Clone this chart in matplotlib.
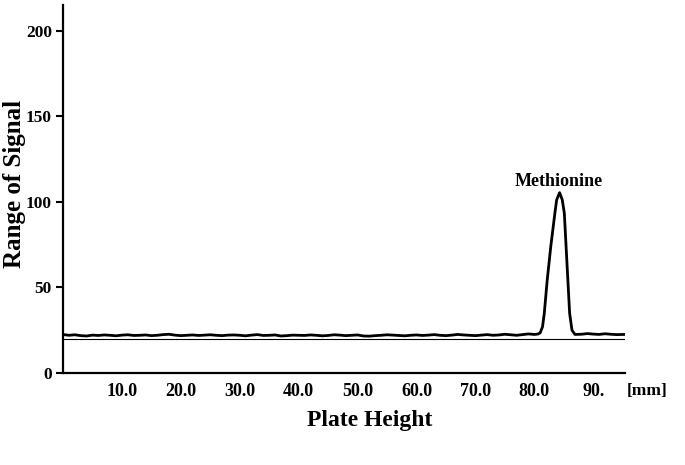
import matplotlib
matplotlib.use("Agg")
import matplotlib.pyplot as plt

plt.rcParams['font.family'] = ['Liberation Serif', 'DejaVu Serif']
plt.rcParams['font.weight'] = 'bold'

# densitogram trace (plate height in mm, signal)
plate_mm = [
    0.1, 1, 2, 3, 4, 5, 6, 7, 8, 9,
    10, 11, 12, 13, 14, 15, 16, 17, 18, 19,
    20, 21, 22, 23, 24, 25, 26, 27, 28, 29,
    30, 31, 32, 33, 34, 35, 36, 37, 38, 39,
    40, 41, 42, 43, 44, 45, 46, 47, 48, 49,
    50, 51, 52, 53, 54, 55, 56, 57, 58, 59,
    60, 61, 62, 63, 64, 65, 66, 67, 68, 69,
    70, 71, 72, 73, 74, 75, 76, 77, 78, 79,
    80, 80.6, 81.0, 81.4, 81.7, 82.2, 82.8, 83.5, 83.8, 84.3,
    84.75, 85.1, 85.4, 85.7, 86.0, 86.4, 86.9, 88, 89,
    90, 91, 92, 93, 94, 95.3,
]
signal = [
    22.4, 22.0, 22.3, 21.8, 21.6, 22.1, 21.9, 22.2, 22.0, 21.7,
    22.1, 22.3, 21.9, 22.0, 22.2, 21.8, 22.0, 22.4, 22.6, 22.1,
    21.8, 22.0, 22.2, 21.9, 22.1, 22.3, 22.0, 21.8, 22.1, 22.2,
    22.0, 21.7, 22.1, 22.4, 21.9, 22.0, 22.2, 21.6, 21.8, 22.1,
    22.0, 21.9, 22.2, 22.0, 21.7, 21.9, 22.3, 22.1, 21.8, 22.0,
    22.2, 21.6, 21.5, 21.8, 22.0, 22.3, 22.1, 21.9, 21.7, 22.0,
    22.2, 21.9, 22.1, 22.4, 22.0, 21.8, 22.1, 22.5, 22.2, 22.0,
    21.8, 22.1, 22.4, 22.0, 22.2, 22.6, 22.3, 22.0, 22.4, 22.8,
    22.5, 22.7, 23.4, 27.0, 34.9, 54.4, 73.9, 93.4, 101.2, 105.4,
    101.2, 93.4, 73.9, 54.4, 34.9, 25.0, 22.5, 22.6, 23.0,
    22.7, 22.5, 22.9, 22.6, 22.4, 22.5,
]
baseline_level = 19.6
baseline_span = [0.0, 95.3]

peak_name = "Methionine"
peak_pos = 84.2
label_level = 112

x_ticks = [10, 20, 30, 40, 50, 60, 70, 80, 90]
x_ticklabels = ['10.0', '20.0', '30.0', '40.0', '50.0', '60.0', '70.0', '80.0', '90.']
y_ticks = [0, 50, 100, 150, 200]

fig = plt.figure(figsize=(6.85, 4.65), dpi=100)
ax = fig.add_axes([0.092, 0.198, 0.8204, 0.791])

ax.plot(baseline_span, [baseline_level, baseline_level], color='black', lw=0.8)
ax.plot(plate_mm, signal, color='black', lw=2.0, solid_joinstyle='round')

ax.text(peak_pos, label_level, peak_name, ha='center', va='center',
        fontsize=13, fontweight='bold')

ax.set_xlim(0, 95.4)
ax.set_ylim(0, 215)

ax.spines['top'].set_visible(False)
ax.spines['right'].set_visible(False)
ax.spines['left'].set_linewidth(1.6)
ax.spines['bottom'].set_linewidth(1.6)

ax.set_xticks(x_ticks)
ax.set_xticklabels(x_ticklabels, fontsize=13, fontweight='bold')
ax.tick_params(axis='x', length=0, pad=7)
ax.set_yticks(y_ticks)
ax.set_yticklabels([str(v) for v in y_ticks], fontsize=12.5, fontweight='bold')
ax.tick_params(axis='y', length=5, width=1.5, pad=3)

# axis titles placed where the original has them
fig.text(370 / 685, 1 - 420 / 465, "Plate Height", ha='center', va='center',
         fontsize=17, fontweight='bold')
fig.text(15 / 685, 1 - 184 / 465, "Range of Signal", rotation=90,
         ha='center', va='center', fontsize=18, fontweight='bold')
fig.text(647 / 685, 1 - 391 / 465, "[mm]", ha='center', va='center',
         fontsize=12.5, fontweight='bold')

fig.savefig("out.png", dpi=100)
